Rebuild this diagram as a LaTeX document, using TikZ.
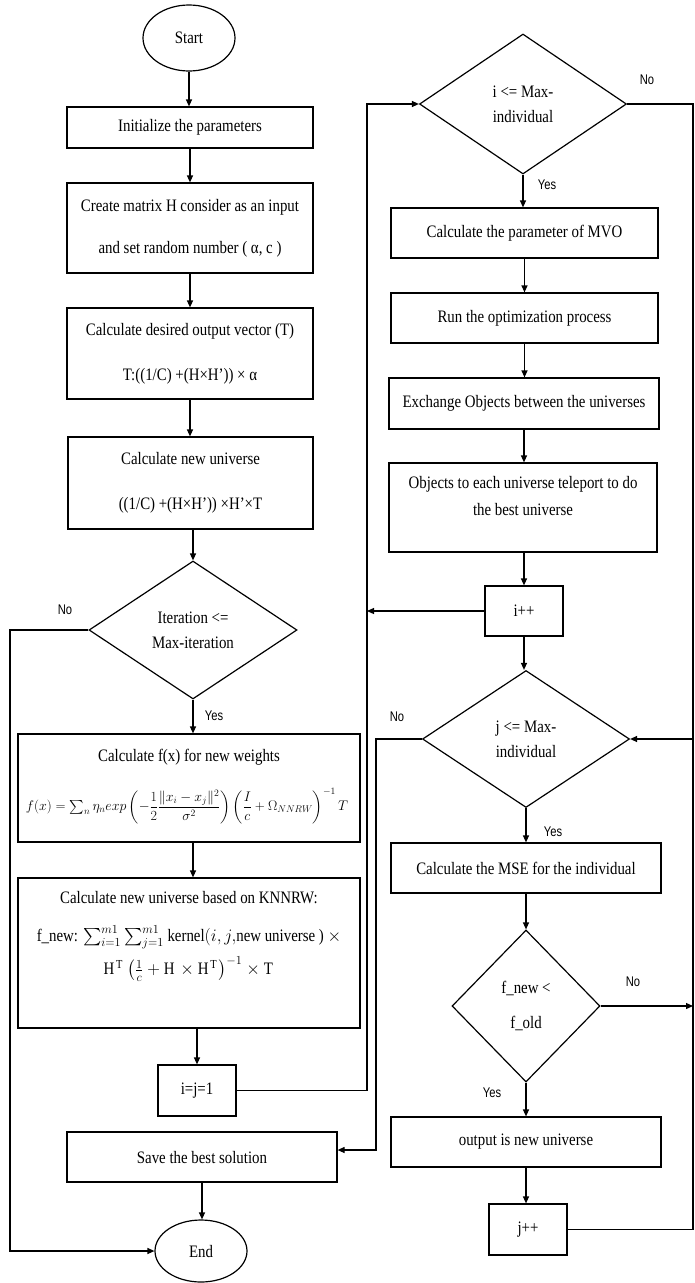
\RequirePackage{fix-cm}
\documentclass[tikz,border=0pt]{standalone}
\usepackage{amsmath}
\usepackage{graphicx}
\usepackage{fontspec}
\setmainfont{Liberation Serif}[FakeStretch=0.85]
\newfontfamily\lblfont{Liberation Sans}[FakeStretch=0.8]
\usetikzlibrary{shapes.geometric,arrows.meta,calc}
\tikzset{
 box/.style={draw, line width=1.2pt, inner sep=0pt, align=center, font=\fontsize{17.5}{21}\selectfont},
 txt/.style={inner sep=0pt, align=center, font=\fontsize{17.5}{21}\selectfont},
 dia/.style={draw, diamond, line width=1.2pt, inner sep=0pt, align=center, font=\fontsize{17.5}{25}\selectfont},
 term/.style={draw, ellipse, line width=1.2pt, inner sep=0pt, font=\fontsize{17.5}{21}\selectfont},
 arr/.style={-{Triangle[length=7pt,width=6pt]}, line width=1.2pt},
 ln/.style={line width=1.2pt},
 yn/.style={font=\lblfont\fontsize{14}{16}\selectfont, inner sep=0pt}
}
\begin{document}
\begin{tikzpicture}[x=1pt,y=-1pt]
\useasboundingbox (0,0) rectangle (694,1283);
% ---------- left column
\node[term, minimum width=92pt, minimum height=66pt] (start) at (189,38) {Start};
\node[box, minimum width=246pt, minimum height=41pt] (init) at (190,127.5) {Initialize the parameters};
\node[box, minimum width=246pt, minimum height=90pt, font=\fontsize{17.5}{42}\selectfont] (create) at (190,228) {Create matrix H consider as an input\\and set random number ( α, c )};
\node[box, minimum width=246pt, minimum height=91pt, font=\fontsize{17.5}{45}\selectfont] (desired) at (190,353.5) {Calculate desired output vector (T)\\T:((1/C) +(H×H')) × α};
\node[box, minimum width=245pt, minimum height=92pt, font=\fontsize{17.5}{45}\selectfont] (newuni) at (190.5,483) {Calculate new universe\\((1/C) +(H×H')) ×H'×T};
\node[dia, minimum width=208pt, minimum height=138pt] (iter) at (193,630) {Iteration <=\\Max-iteration};
\node[box, minimum width=342pt, minimum height=108pt] (fx) at (189,788) {};
\node[txt] (fxhead) at (189,757) {Calculate f(x) for new weights};
\node[txt] (fxform) at (187,806) {\resizebox{322pt}{!}{$f(x)=\textstyle\sum_n \eta_n exp\displaystyle\left(-\frac{1}{2}\frac{\|x_i-x_j\|^2}{\sigma^2}\right)\left(\frac{I}{c}+\Omega_{NNRW}\right)^{-1}T$}};
\node[box, minimum width=342pt, minimum height=150pt] (knn) at (189,953) {};
\node[txt] (knnhead) at (189,898) {Calculate new universe based on KNNRW:};
\node[txt] (knnl2) at (189,937) {f\_new: $\sum_{i=1}^{m1}\sum_{j=1}^{m1}$ kernel$(i,j,$new universe ) $\times$};
\node[txt] (knnl3) at (189,969) {$\mathrm{H}^{\mathrm{T}}\left(\frac{1}{c}+\mathrm{H}\times\mathrm{H}^{\mathrm{T}}\right)^{-1}\times\mathrm{T}$};
\node[box, minimum width=78pt, minimum height=51pt] (ij1) at (197,1090.5) {i=j=1};
\node[box, minimum width=270pt, minimum height=50pt] (save) at (202,1157) {Save the best solution};
\node[term, minimum width=92pt, minimum height=62pt] (end) at (201,1251) {End};
% ---------- right column
\node[dia, minimum width=207pt, minimum height=140pt] (idia) at (523,104) {i <= Max-\\individual};
\node[box, minimum width=267pt, minimum height=50pt] (mvo) at (524.5,233) {Calculate the parameter of MVO};
\node[box, minimum width=267pt, minimum height=50pt] (run) at (524.5,318) {Run the optimization process};
\node[box, minimum width=270pt, minimum height=51pt] (exch) at (524,403.5) {Exchange Objects between the universes};
\node[box, minimum width=268pt, minimum height=89pt] (obj) at (523,507.5) {};
\node[txt, anchor=north, font=\fontsize{17.5}{27}\selectfont] (objtxt) at (523,476) {Objects to each universe teleport to do\\the best universe};
\node[box, minimum width=78pt, minimum height=50pt] (ipp) at (524,611) {i++};
\node[dia, minimum width=207pt, minimum height=137pt] (jdia) at (526,739) {j <= Max-\\individual};
\node[box, minimum width=270pt, minimum height=50pt] (mse) at (526,868) {Calculate the MSE for the individual};
\node[dia, minimum width=148pt, minimum height=152pt, font=\fontsize{17.5}{35}\selectfont] (fdia) at (526,1006) {f\_new <\\f\_old};
\node[box, minimum width=270pt, minimum height=50pt] (out) at (526,1142) {output is new universe};
\node[box, minimum width=78pt, minimum height=51pt] (jpp) at (528,1229.5) {j++};
% ---------- labels
\node[yn] (no1) at (65,610) {No};
\node[yn] (yes1) at (214,716) {Yes};
\node[yn] (no2) at (647,80) {No};
\node[yn] (yes2) at (547,185) {Yes};
\node[yn] (no3) at (397,717) {No};
\node[yn] (yes3) at (553,832) {Yes};
\node[yn] (no4) at (633,982) {No};
\node[yn] (yes4) at (492,1093) {Yes};
% ---------- helper coordinates
\coordinate (nl1) at (10,630);
\coordinate (nl2) at (10,1251);
\coordinate (la) at (367,1090.5);
\coordinate (lb) at (367,104);
\coordinate (lc) at (367,611);
\coordinate (ma) at (376,739);
\coordinate (mb) at (376,1150);
\coordinate (ra) at (693,104);
\coordinate (rb) at (693,1229.5);
\coordinate (rc) at (693,739);
\coordinate (rd) at (693,1006);
% ---------- left connectors
\draw[arr] (start.south) -- (start.south |- init.north);
\draw[arr] (init.south) -- (create.north);
\draw[arr] (create.south) -- (desired.north);
\draw[arr] (desired.south) -- (desired.south |- newuni.north);
\draw[arr] (newuni.south -| iter.north) -- (iter.north);
\draw[arr] (iter.south) -- (iter.south |- fx.north);
\draw[arr] (iter.south |- fx.south) -- (iter.south |- knn.north);
\draw[arr] (ij1.north |- knn.south) -- (ij1.north);
\draw[arr] (save.south) -- (save.south |- end.north);
\draw[arr] (iter.west) -- (nl1) -- (nl2) -- (end.west);
% ---------- loops
\draw[arr] (ij1.east) -- (la) -- (lb) -- (idia.west);
\draw[arr] (ipp.west) -- (lc);
\draw[arr] (jdia.west) -- (ma) -- (mb) -- (mb -| save.east);
\draw[ln] (idia.east) -- (ra) -- (rb);
\draw[arr] (jpp.east) -- (rb) -- (rc) -- (jdia.east);
\draw[arr] (fdia.east) -- (rd);
% ---------- right connectors
\draw[arr] (idia.south) -- (idia.south |- mvo.north);
\draw[arr] (mvo.south) -- (run.north);
\draw[arr] (run.south) -- (run.south |- exch.north);
\draw[arr] (exch.south) -- (exch.south |- obj.north);
\draw[arr] (obj.south -| ipp.north) -- (ipp.north);
\draw[arr] (ipp.south) -- (ipp.south |- jdia.north);
\draw[arr] (jdia.south) -- (mse.north);
\draw[arr] (mse.south) -- (fdia.north);
\draw[arr] (fdia.south) -- (out.north);
\draw[arr] (out.south) -- (out.south |- jpp.north);
\end{tikzpicture}
\end{document}
